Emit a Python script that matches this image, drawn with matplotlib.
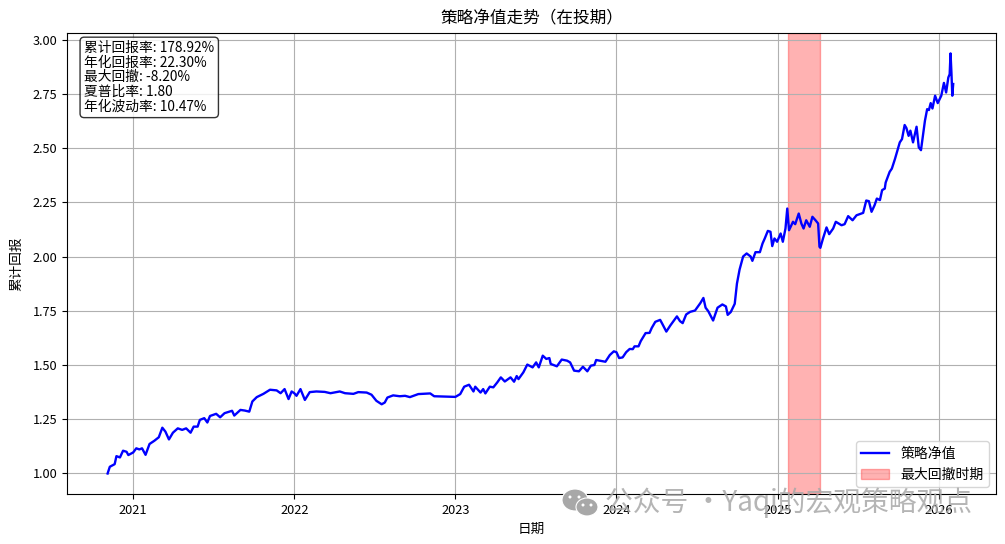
import matplotlib
matplotlib.use('Agg')
import matplotlib.pyplot as plt
import matplotlib.dates as mdates
from matplotlib.patches import Ellipse
import pandas as pd

plt.rcParams['font.family'] = ['Noto Sans CJK SC', 'DejaVu Sans']
plt.rcParams['axes.unicode_minus'] = False

# values
dates = [
    '2020-11-04','2020-11-09','2020-11-20','2020-11-24','2020-12-02','2020-12-09','2020-12-17','2020-12-21',
    '2021-01-01','2021-01-08','2021-01-15','2021-01-21','2021-01-29','2021-02-07','2021-02-18','2021-02-28',
    '2021-03-08','2021-03-15','2021-03-23','2021-04-01','2021-04-12','2021-04-22','2021-05-01','2021-05-11',
    '2021-05-18','2021-05-27','2021-06-01','2021-06-11','2021-06-18','2021-06-24','2021-07-08','2021-07-17',
    '2021-07-27','2021-08-13','2021-08-18','2021-09-01','2021-09-11','2021-09-21','2021-09-28','2021-10-08',
    '2021-10-23','2021-11-07','2021-11-22','2021-12-01','2021-12-10','2021-12-19','2021-12-26',
    '2022-01-01','2022-01-06','2022-01-15','2022-01-25','2022-02-05','2022-02-20','2022-03-11','2022-03-24',
    '2022-04-14','2022-04-26','2022-05-15','2022-05-26','2022-06-14','2022-06-25','2022-07-06','2022-07-18',
    '2022-07-25','2022-07-31','2022-08-13','2022-08-28','2022-09-09','2022-09-20','2022-10-09','2022-11-05',
    '2022-11-14',
    '2023-01-01','2023-01-12','2023-01-21','2023-02-01','2023-02-11','2023-02-15','2023-02-27','2023-03-05',
    '2023-03-10','2023-03-20','2023-03-28','2023-04-06','2023-04-14','2023-04-23','2023-05-06','2023-05-14',
    '2023-05-20','2023-05-24','2023-06-04','2023-06-13','2023-06-25','2023-07-03','2023-07-09','2023-07-18',
    '2023-07-26','2023-08-02','2023-08-05','2023-08-19','2023-08-30','2023-09-11','2023-09-18','2023-09-27',
    '2023-10-08','2023-10-17','2023-10-27','2023-11-04','2023-11-12','2023-11-16','2023-12-07','2023-12-17',
    '2023-12-26',
    '2024-01-01','2024-01-07','2024-01-15','2024-01-23','2024-01-31','2024-02-07','2024-02-11','2024-02-20',
    '2024-02-25','2024-03-07','2024-03-16','2024-03-21','2024-03-29','2024-04-09','2024-04-13','2024-04-23',
    '2024-05-02','2024-05-17','2024-05-24','2024-05-30','2024-06-07','2024-06-16','2024-06-27','2024-07-09',
    '2024-07-16','2024-07-21','2024-07-27','2024-08-07','2024-08-17','2024-08-28','2024-09-05','2024-09-09',
    '2024-09-16','2024-09-25','2024-09-30','2024-10-06','2024-10-14','2024-10-22','2024-10-31','2024-11-04',
    '2024-11-11','2024-11-21','2024-11-27','2024-12-02','2024-12-09','2024-12-15','2024-12-19','2024-12-24',
    '2024-12-30',
    '2025-01-07','2025-01-12','2025-01-18','2025-01-22','2025-01-26','2025-02-04','2025-02-09','2025-02-17',
    '2025-02-23','2025-02-28','2025-03-06','2025-03-14','2025-03-20','2025-03-27','2025-04-02','2025-04-05',
    '2025-04-07','2025-04-13','2025-04-21','2025-04-27','2025-05-06','2025-05-12','2025-05-25','2025-06-01',
    '2025-06-09','2025-06-19','2025-06-28','2025-07-13','2025-07-20','2025-07-26','2025-08-01','2025-08-08',
    '2025-08-13','2025-08-20','2025-08-25','2025-08-31','2025-09-02','2025-09-11','2025-09-16','2025-09-23',
    '2025-10-04','2025-10-09','2025-10-15','2025-10-19','2025-10-24','2025-10-28','2025-11-03','2025-11-11',
    '2025-11-16','2025-11-21','2025-11-26','2025-11-30','2025-12-05','2025-12-09','2025-12-13','2025-12-17',
    '2025-12-23','2025-12-29',
    '2026-01-06','2026-01-12','2026-01-17','2026-01-22','2026-01-25','2026-01-27','2026-01-29','2026-01-31',
    '2026-02-02',
]
nav = [
    1.000,1.031,1.043,1.080,1.074,1.105,1.100,1.085,
    1.097,1.116,1.111,1.116,1.086,1.136,1.151,1.167,
    1.211,1.193,1.157,1.188,1.208,1.201,1.208,1.188,
    1.216,1.216,1.247,1.255,1.235,1.265,1.275,1.259,
    1.278,1.289,1.267,1.293,1.290,1.285,1.332,1.352,
    1.367,1.386,1.383,1.370,1.389,1.343,1.378,
    1.370,1.358,1.389,1.339,1.375,1.378,1.376,1.370,
    1.378,1.370,1.367,1.375,1.373,1.363,1.335,1.319,
    1.327,1.350,1.360,1.356,1.358,1.352,1.366,1.369,
    1.356,
    1.353,1.366,1.400,1.409,1.378,1.400,1.373,1.389,
    1.369,1.400,1.397,1.420,1.443,1.424,1.443,1.423,
    1.449,1.435,1.466,1.502,1.489,1.512,1.489,1.543,
    1.528,1.532,1.505,1.494,1.525,1.520,1.512,1.474,
    1.471,1.492,1.471,1.497,1.500,1.523,1.515,1.546,
    1.563,
    1.559,1.532,1.535,1.559,1.574,1.573,1.586,1.586,
    1.610,1.647,1.648,1.671,1.699,1.708,1.693,1.654,
    1.682,1.724,1.702,1.693,1.733,1.745,1.751,1.785,
    1.809,1.764,1.748,1.705,1.764,1.779,1.770,1.731,
    1.744,1.782,1.875,1.940,2.000,2.014,2.000,1.980,
    2.020,2.020,2.060,2.083,2.118,2.114,2.048,2.083,
    2.068,
    2.106,2.068,2.129,2.221,2.121,2.160,2.149,2.198,
    2.152,2.129,2.167,2.137,2.183,2.167,2.152,2.045,
    2.040,2.083,2.134,2.103,2.129,2.160,2.144,2.149,
    2.186,2.167,2.190,2.201,2.258,2.255,2.206,2.237,
    2.267,2.260,2.306,2.313,2.341,2.390,2.405,2.449,
    2.526,2.541,2.606,2.592,2.556,2.580,2.526,2.598,
    2.503,2.490,2.564,2.626,2.679,2.675,2.707,2.682,
    2.741,2.707,
    2.741,2.800,2.756,2.825,2.840,2.936,2.848,2.741,
    2.795,
]
dd_start = '2025-01-24'
dd_end = '2025-04-07'
stats_lines = ['累计回报率: 178.92%', '年化回报率: 22.30%', '最大回撤: -8.20%', '夏普比率: 1.80', '年化波动率: 10.47%']
year_ticks = ['2021', '2022', '2023', '2024', '2025', '2026']
W, H = 1005, 544

fig = plt.figure(figsize=(W/100, H/100), dpi=100)
ax = fig.add_axes([67/W, 1-494/H, 929/W, 461/H])

ax.plot(pd.to_datetime(dates), nav, color='blue', lw=1.7, label='策略净值')
ax.axvspan(pd.Timestamp(dd_start), pd.Timestamp(dd_end), color='red', alpha=0.3, label='最大回撤时期')

ax.set_xlim(pd.Timestamp('2020-08-04'), pd.Timestamp('2026-05-10'))
ax.set_ylim(0.9055, 3.03)
ax.set_xticks(pd.to_datetime(year_ticks))
ax.xaxis.set_major_formatter(mdates.DateFormatter('%Y'))
ax.set_yticks([1.0, 1.25, 1.5, 1.75, 2.0, 2.25, 2.5, 2.75, 3.0])
ax.tick_params(labelsize=9.2)
ax.grid(True)
ax.set_title('策略净值走势（在投期）', fontsize=12, pad=7)
ax.set_xlabel('日期', fontsize=9.8, labelpad=4)
ax.set_ylabel('累计回报', fontsize=9.8, labelpad=7)
ax.legend(loc='lower right', fontsize=10)

ax.text(0.0185, 0.982, '\n'.join(stats_lines), transform=ax.transAxes, va='top', ha='left',
        fontsize=9.9, linespacing=1.05,
        bbox=dict(boxstyle='round', facecolor='white', alpha=0.8))

# watermark
wm_gray = '#a8a8a8'
fig.text(605/W, 1-503/H, '公众号 ·Yaqi的宏观策略观点', fontsize=20, color=wm_gray, alpha=0.85,
         ha='left', va='center')
for cx, cy, rx, ry in [(575, 500, 13, 11), (587, 507, 11, 9)]:
    fig.add_artist(Ellipse((cx/W, 1-cy/H), 2*rx/W, 2*ry/H, transform=fig.transFigure,
                           facecolor=wm_gray, edgecolor='white', lw=0.8))
for cx, cy in [(570, 497), (579, 497), (583, 505), (591, 505)]:
    fig.add_artist(Ellipse((cx/W, 1-cy/H), 3/W, 3/H, transform=fig.transFigure, facecolor='white', edgecolor='none'))

fig.savefig('out.png', dpi=100)
